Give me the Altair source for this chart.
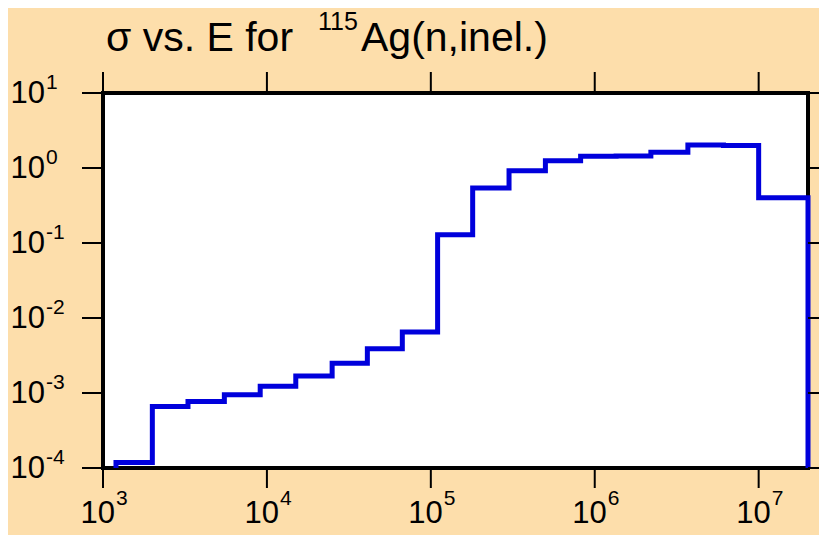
import altair as alt
import pandas as pd

# ---- data ----
energy = [1.2e3, 1.2e3, 2.0e3, 3.3e3, 5.5e3, 9.1e3, 1.5e4, 2.5e4, 4.1e4, 6.7e4,
          1.1e5, 1.8e5, 3.0e5, 5.0e5, 8.2e5, 1.35e6, 2.2e6, 3.7e6, 6.1e6, 1.0e7, 2.0e7]
sigma = [1.0e-4, 1.18e-4, 6.6e-4, 7.7e-4, 9.5e-4, 1.23e-3, 1.68e-3, 2.5e-3, 3.9e-3, 6.5e-3,
         0.129, 0.54, 0.92, 1.25, 1.43, 1.45, 1.62, 2.03, 1.99, 0.40, 1.0e-4]

x_ticks = [1e3, 1e4, 1e5, 1e6, 1e7]
x_exps = ["3", "4", "5", "6", "7"]
y_ticks = [1e-4, 1e-3, 1e-2, 1e-1, 1e0, 1e1]
y_exps = ["-4", "-3", "-2", "-1", "0", "1"]

title_main = "σ vs. E for"
title_mass = "115"
title_rest = "Ag(n,inel.)"

FONT = "Liberation Sans"
BG = "#FDDEAB"
W, H = 705, 375

line_df = pd.DataFrame({"E": energy, "sigma": sigma, "i": list(range(len(energy)))})
xt = pd.DataFrame({"v": x_ticks, "base": ["10"] * len(x_ticks), "exp": x_exps})
yt = pd.DataFrame({"v": y_ticks, "base": ["10"] * len(y_ticks), "exp": y_exps})

xscale = alt.Scale(type="log", domain=[1e3, 2e7], nice=False)
yscale = alt.Scale(type="log", domain=[1e-4, 10], nice=False)

line = alt.Chart(line_df).mark_line(
    interpolate="step-after", color="#0000dc", strokeWidth=5
).encode(
    x=alt.X("E:Q", scale=xscale, axis=None),
    y=alt.Y("sigma:Q", scale=yscale, axis=None),
    order=alt.Order("i:Q"),
)

# tick marks on all four sides
tick_left = alt.Chart(yt).mark_rule(color="black", strokeWidth=2).encode(
    y=alt.Y("v:Q", scale=yscale, axis=None), x=alt.value(-21), x2=alt.value(0))
tick_right = alt.Chart(yt).mark_rule(color="black", strokeWidth=2).encode(
    y=alt.Y("v:Q", scale=yscale, axis=None), x=alt.value(W), x2=alt.value(W + 21))
tick_top = alt.Chart(xt).mark_rule(color="black", strokeWidth=2).encode(
    x=alt.X("v:Q", scale=xscale, axis=None), y=alt.value(-21), y2=alt.value(0))
tick_bottom = alt.Chart(xt).mark_rule(color="black", strokeWidth=2).encode(
    x=alt.X("v:Q", scale=xscale, axis=None), y=alt.value(H + 2), y2=alt.value(H + 20))

# axis labels: "10" with superscript exponent
y_base = alt.Chart(yt).mark_text(
    align="right", baseline="middle", fontSize=31, font=FONT, color="black", dy=1
).encode(y=alt.Y("v:Q", scale=yscale, axis=None), x=alt.value(-58), text="base:N")
y_exp = alt.Chart(yt).mark_text(
    align="left", baseline="alphabetic", fontSize=21, font=FONT, color="black", dy=-4
).encode(y=alt.Y("v:Q", scale=yscale, axis=None), x=alt.value(-57), text="exp:N")

x_base = alt.Chart(xt).mark_text(
    align="right", baseline="alphabetic", fontSize=31, font=FONT, color="black", dx=12
).encode(x=alt.X("v:Q", scale=xscale, axis=None), y=alt.value(430), text="base:N")
x_exp = alt.Chart(xt).mark_text(
    align="left", baseline="alphabetic", fontSize=21, font=FONT, color="black", dx=13
).encode(x=alt.X("v:Q", scale=xscale, axis=None), y=alt.value(412), text="exp:N")

# title with superscript mass number
t1 = alt.Chart(pd.DataFrame({"t": [title_main]})).mark_text(
    align="left", baseline="alphabetic", fontSize=41, font=FONT, color="black"
).encode(x=alt.value(3), y=alt.value(-42), text="t:N")
t2 = alt.Chart(pd.DataFrame({"t": [title_mass]})).mark_text(
    align="left", baseline="alphabetic", fontSize=25, font=FONT, color="black"
).encode(x=alt.value(215), y=alt.value(-63), text="t:N")
t3 = alt.Chart(pd.DataFrame({"t": [title_rest]})).mark_text(
    align="left", baseline="alphabetic", fontSize=41, font=FONT, color="black"
).encode(x=alt.value(258), y=alt.value(-42), text="t:N")

chart = alt.layer(
    line, tick_left, tick_right, tick_top, tick_bottom,
    y_base, y_exp, x_base, x_exp, t1, t2, t3
).properties(
    width=W, height=H, background=BG,
    padding={"left": 95, "top": 85, "right": 11, "bottom": 67},
    autosize=alt.AutoSizeParams(type="none"),
).configure_view(stroke="black", strokeWidth=4, fill="white")

chart.save("out.html", embed_options={"renderer": "svg", "actions": False})
